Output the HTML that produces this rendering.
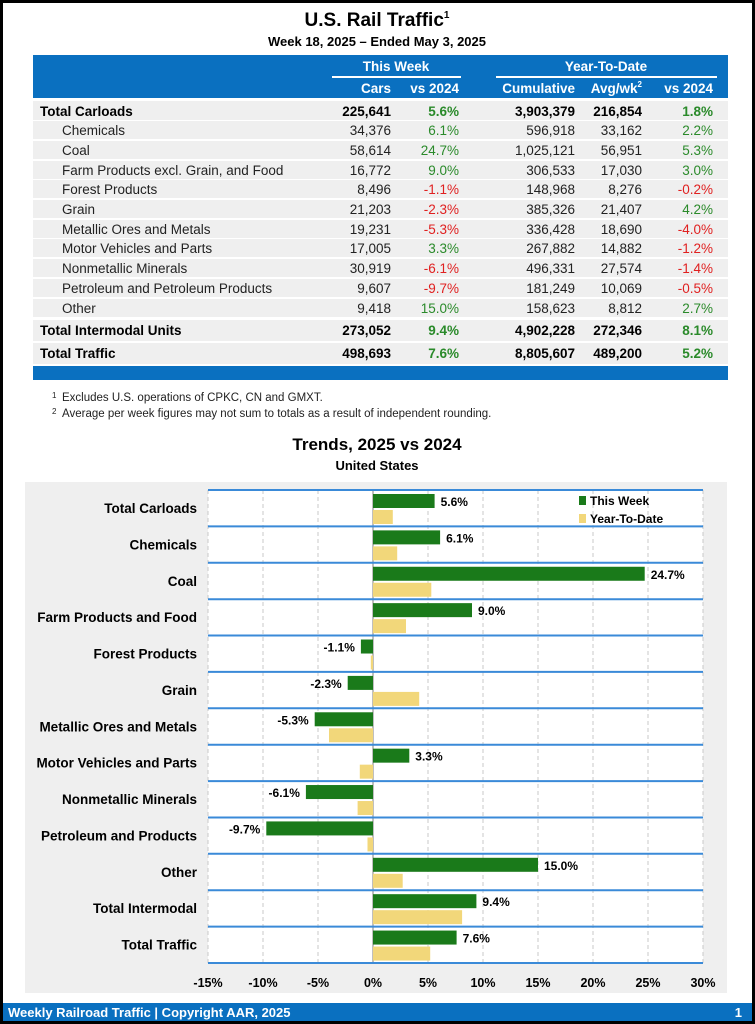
<!DOCTYPE html>
<html><head><meta charset="utf-8"><style>
html,body{margin:0;padding:0;background:#fff}
svg{display:block}
text{font-family:"Liberation Sans",Arial,sans-serif}
</style></head><body>
<svg width="755" height="1024" viewBox="0 0 755 1024" xmlns="http://www.w3.org/2000/svg">
<rect x="0" y="0" width="755" height="1024" fill="#000"/>
<rect x="3" y="3" width="749" height="1018" fill="#fff"/>
<text x="377" y="26" text-anchor="middle" font-size="19" font-weight="bold">U.S. Rail Traffic<tspan font-size="10" dy="-8">1</tspan></text>
<text x="377" y="46" text-anchor="middle" font-size="13" font-weight="bold">Week 18, 2025 – Ended May 3, 2025</text>
<rect x="33" y="55" width="695" height="43" fill="#0a70c0"/>
<g fill="#fff" font-weight="bold" font-size="13.5">
<text x="396" y="71" text-anchor="middle">This Week</text>
<text x="606" y="71" text-anchor="middle">Year-To-Date</text>
<rect x="332" y="76" width="129" height="2"/>
<rect x="496" y="76" width="221" height="2"/>
<text x="391" y="93" text-anchor="end">Cars</text>
<text x="459" y="93" text-anchor="end">vs 2024</text>
<text x="575" y="93" text-anchor="end">Cumulative</text>
<text x="642" y="93" text-anchor="end">Avg/wk<tspan font-size="8" dy="-6">2</tspan></text>
<text x="713" y="93" text-anchor="end">vs 2024</text>
</g>
<g fill="#efefef">
<rect x="33" y="101" width="695" height="19"/>
<rect x="33" y="121" width="695" height="18"/>
<rect x="33" y="141" width="695" height="18"/>
<rect x="33" y="161" width="695" height="18"/>
<rect x="33" y="180" width="695" height="18"/>
<rect x="33" y="200" width="695" height="18"/>
<rect x="33" y="220" width="695" height="18"/>
<rect x="33" y="239" width="695" height="18"/>
<rect x="33" y="259" width="695" height="18"/>
<rect x="33" y="279" width="695" height="18"/>
<rect x="33" y="299" width="695" height="18"/>
<rect x="33" y="320" width="695" height="21"/>
<rect x="33" y="343" width="695" height="21"/>
</g>
<rect x="33" y="366" width="695" height="14" fill="#0a70c0"/>
<g font-size="13.5">
<g font-weight="bold">
<text x="40" y="116">Total Carloads</text>
<text x="391" y="116" text-anchor="end">225,641</text><text x="459" y="116" text-anchor="end" fill="#2a8a2a">5.6%</text><text x="575" y="116" text-anchor="end">3,903,379</text><text x="642" y="116" text-anchor="end">216,854</text><text x="713" y="116" text-anchor="end" fill="#2a8a2a">1.8%</text>
<text x="40" y="335">Total Intermodal Units</text>
<text x="391" y="335" text-anchor="end">273,052</text><text x="459" y="335" text-anchor="end" fill="#2a8a2a">9.4%</text><text x="575" y="335" text-anchor="end">4,902,228</text><text x="642" y="335" text-anchor="end">272,346</text><text x="713" y="335" text-anchor="end" fill="#2a8a2a">8.1%</text>
<text x="40" y="358">Total Traffic</text>
<text x="391" y="358" text-anchor="end">498,693</text><text x="459" y="358" text-anchor="end" fill="#2a8a2a">7.6%</text><text x="575" y="358" text-anchor="end">8,805,607</text><text x="642" y="358" text-anchor="end">489,200</text><text x="713" y="358" text-anchor="end" fill="#2a8a2a">5.2%</text>
</g>
<g fill="#222">
<text x="62" y="135">Chemicals</text><text x="391" y="135" text-anchor="end">34,376</text><text x="459" y="135" text-anchor="end" fill="#2a8a2a">6.1%</text><text x="575" y="135" text-anchor="end">596,918</text><text x="642" y="135" text-anchor="end">33,162</text><text x="713" y="135" text-anchor="end" fill="#2a8a2a">2.2%</text>
<text x="62" y="155">Coal</text><text x="391" y="155" text-anchor="end">58,614</text><text x="459" y="155" text-anchor="end" fill="#2a8a2a">24.7%</text><text x="575" y="155" text-anchor="end">1,025,121</text><text x="642" y="155" text-anchor="end">56,951</text><text x="713" y="155" text-anchor="end" fill="#2a8a2a">5.3%</text>
<text x="62" y="175">Farm Products excl. Grain, and Food</text><text x="391" y="175" text-anchor="end">16,772</text><text x="459" y="175" text-anchor="end" fill="#2a8a2a">9.0%</text><text x="575" y="175" text-anchor="end">306,533</text><text x="642" y="175" text-anchor="end">17,030</text><text x="713" y="175" text-anchor="end" fill="#2a8a2a">3.0%</text>
<text x="62" y="194">Forest Products</text><text x="391" y="194" text-anchor="end">8,496</text><text x="459" y="194" text-anchor="end" fill="#e02020">-1.1%</text><text x="575" y="194" text-anchor="end">148,968</text><text x="642" y="194" text-anchor="end">8,276</text><text x="713" y="194" text-anchor="end" fill="#e02020">-0.2%</text>
<text x="62" y="214">Grain</text><text x="391" y="214" text-anchor="end">21,203</text><text x="459" y="214" text-anchor="end" fill="#e02020">-2.3%</text><text x="575" y="214" text-anchor="end">385,326</text><text x="642" y="214" text-anchor="end">21,407</text><text x="713" y="214" text-anchor="end" fill="#2a8a2a">4.2%</text>
<text x="62" y="234">Metallic Ores and Metals</text><text x="391" y="234" text-anchor="end">19,231</text><text x="459" y="234" text-anchor="end" fill="#e02020">-5.3%</text><text x="575" y="234" text-anchor="end">336,428</text><text x="642" y="234" text-anchor="end">18,690</text><text x="713" y="234" text-anchor="end" fill="#e02020">-4.0%</text>
<text x="62" y="253">Motor Vehicles and Parts</text><text x="391" y="253" text-anchor="end">17,005</text><text x="459" y="253" text-anchor="end" fill="#2a8a2a">3.3%</text><text x="575" y="253" text-anchor="end">267,882</text><text x="642" y="253" text-anchor="end">14,882</text><text x="713" y="253" text-anchor="end" fill="#e02020">-1.2%</text>
<text x="62" y="273">Nonmetallic Minerals</text><text x="391" y="273" text-anchor="end">30,919</text><text x="459" y="273" text-anchor="end" fill="#e02020">-6.1%</text><text x="575" y="273" text-anchor="end">496,331</text><text x="642" y="273" text-anchor="end">27,574</text><text x="713" y="273" text-anchor="end" fill="#e02020">-1.4%</text>
<text x="62" y="293">Petroleum and Petroleum Products</text><text x="391" y="293" text-anchor="end">9,607</text><text x="459" y="293" text-anchor="end" fill="#e02020">-9.7%</text><text x="575" y="293" text-anchor="end">181,249</text><text x="642" y="293" text-anchor="end">10,069</text><text x="713" y="293" text-anchor="end" fill="#e02020">-0.5%</text>
<text x="62" y="313">Other</text><text x="391" y="313" text-anchor="end">9,418</text><text x="459" y="313" text-anchor="end" fill="#2a8a2a">15.0%</text><text x="575" y="313" text-anchor="end">158,623</text><text x="642" y="313" text-anchor="end">8,812</text><text x="713" y="313" text-anchor="end" fill="#2a8a2a">2.7%</text>
</g>
</g>
<g font-size="11.5" fill="#222">
<text x="52" y="398" font-size="8">1</text><text x="62" y="401">Excludes U.S. operations of CPKC, CN and GMXT.</text>
<text x="52" y="414" font-size="8">2</text><text x="62" y="417">Average per week figures may not sum to totals as a result of independent rounding.</text>
</g>
<text x="377" y="450" text-anchor="middle" font-size="17" font-weight="bold">Trends, 2025 vs 2024</text>
<text x="377" y="470" text-anchor="middle" font-size="13" font-weight="bold">United States</text>
<rect x="25" y="482" width="702" height="511" fill="#efefef"/>
<rect x="208" y="490" width="495" height="473" fill="#fff"/>
<g stroke="#c8c8c8" stroke-dasharray="4,3" stroke-width="1">
<line x1="208" y1="490" x2="208" y2="963"/><line x1="263" y1="490" x2="263" y2="963"/><line x1="318" y1="490" x2="318" y2="963"/>
<line x1="428" y1="490" x2="428" y2="963"/><line x1="483" y1="490" x2="483" y2="963"/><line x1="538" y1="490" x2="538" y2="963"/><line x1="593" y1="490" x2="593" y2="963"/><line x1="648" y1="490" x2="648" y2="963"/><line x1="703" y1="490" x2="703" y2="963"/>
</g>
<line x1="373" y1="490" x2="373" y2="963" stroke="#aaa" stroke-width="1.5"/>
<g id="bars"></g>
<g stroke="#3a8ad8" stroke-width="2">
<line x1="208" y1="490" x2="703" y2="490"/><line x1="208" y1="526.4" x2="703" y2="526.4"/><line x1="208" y1="562.8" x2="703" y2="562.8"/><line x1="208" y1="599.2" x2="703" y2="599.2"/><line x1="208" y1="635.5" x2="703" y2="635.5"/><line x1="208" y1="671.9" x2="703" y2="671.9"/><line x1="208" y1="708.3" x2="703" y2="708.3"/><line x1="208" y1="744.7" x2="703" y2="744.7"/><line x1="208" y1="781.1" x2="703" y2="781.1"/><line x1="208" y1="817.5" x2="703" y2="817.5"/><line x1="208" y1="853.8" x2="703" y2="853.8"/><line x1="208" y1="890.2" x2="703" y2="890.2"/><line x1="208" y1="926.6" x2="703" y2="926.6"/><line x1="208" y1="963" x2="703" y2="963"/>
</g>
<rect x="579" y="496" width="7" height="9" fill="#1a7a1a"/><text x="590" y="505" font-size="12" font-weight="bold">This Week</text>
<rect x="579" y="514" width="7" height="9" fill="#f2d77a"/><text x="590" y="523" font-size="12" font-weight="bold">Year-To-Date</text>
<g font-size="12.5" font-weight="bold" text-anchor="middle">
<text x="208" y="987">-15%</text><text x="263" y="987">-10%</text><text x="318" y="987">-5%</text><text x="373" y="987">0%</text><text x="428" y="987">5%</text><text x="483" y="987">10%</text><text x="538" y="987">15%</text><text x="593" y="987">20%</text><text x="648" y="987">25%</text><text x="703" y="987">30%</text>
</g>
<rect x="3" y="1003" width="749" height="18" fill="#0a70c0"/>
<text x="8" y="1017" fill="#fff" font-size="13" font-weight="bold">Weekly Railroad Traffic | Copyright AAR, 2025</text>
<text x="742" y="1017" fill="#fff" font-size="13" font-weight="bold" text-anchor="end">1</text>
<g id="rows"></g>
</svg>
<script>
var d=[["Total Carloads",5.6,1.8],["Chemicals",6.1,2.2],["Coal",24.7,5.3],["Farm Products and Food",9.0,3.0],["Forest Products",-1.1,-0.2],["Grain",-2.3,4.2],["Metallic Ores and Metals",-5.3,-4.0],["Motor Vehicles and Parts",3.3,-1.2],["Nonmetallic Minerals",-6.1,-1.4],["Petroleum and Products",-9.7,-0.5],["Other",15.0,2.7],["Total Intermodal",9.4,8.1],["Total Traffic",7.6,5.2]];
var ns="http://www.w3.org/2000/svg",b=document.getElementById("bars"),r=document.getElementById("rows");
function el(p,t,a,tx){var e=document.createElementNS(ns,t);for(var k in a)e.setAttribute(k,a[k]);if(tx)e.textContent=tx;p.appendChild(e);}
d.forEach(function(v,i){var top=490+i*36.38,z=373,s=11;
function bar(val,y,c){var x=val>=0?z:z+val*s;el(b,"rect",{x:x,y:y,width:Math.abs(val)*s,height:14,fill:c});}
bar(v[1],top+4,"#1a7a1a");bar(v[2],top+20,"#f2d77a");
var lx=v[1]>=0?z+v[1]*s+6:z+v[1]*s-6;
el(r,"text",{x:lx,y:top+16,"font-size":"12","font-weight":"bold","text-anchor":v[1]>=0?"start":"end"},v[1].toFixed(1)+"%");
el(r,"text",{x:197,y:top+23,"font-size":"13.5","font-weight":"bold","text-anchor":"end"},v[0]);});
</script>
</body></html>
